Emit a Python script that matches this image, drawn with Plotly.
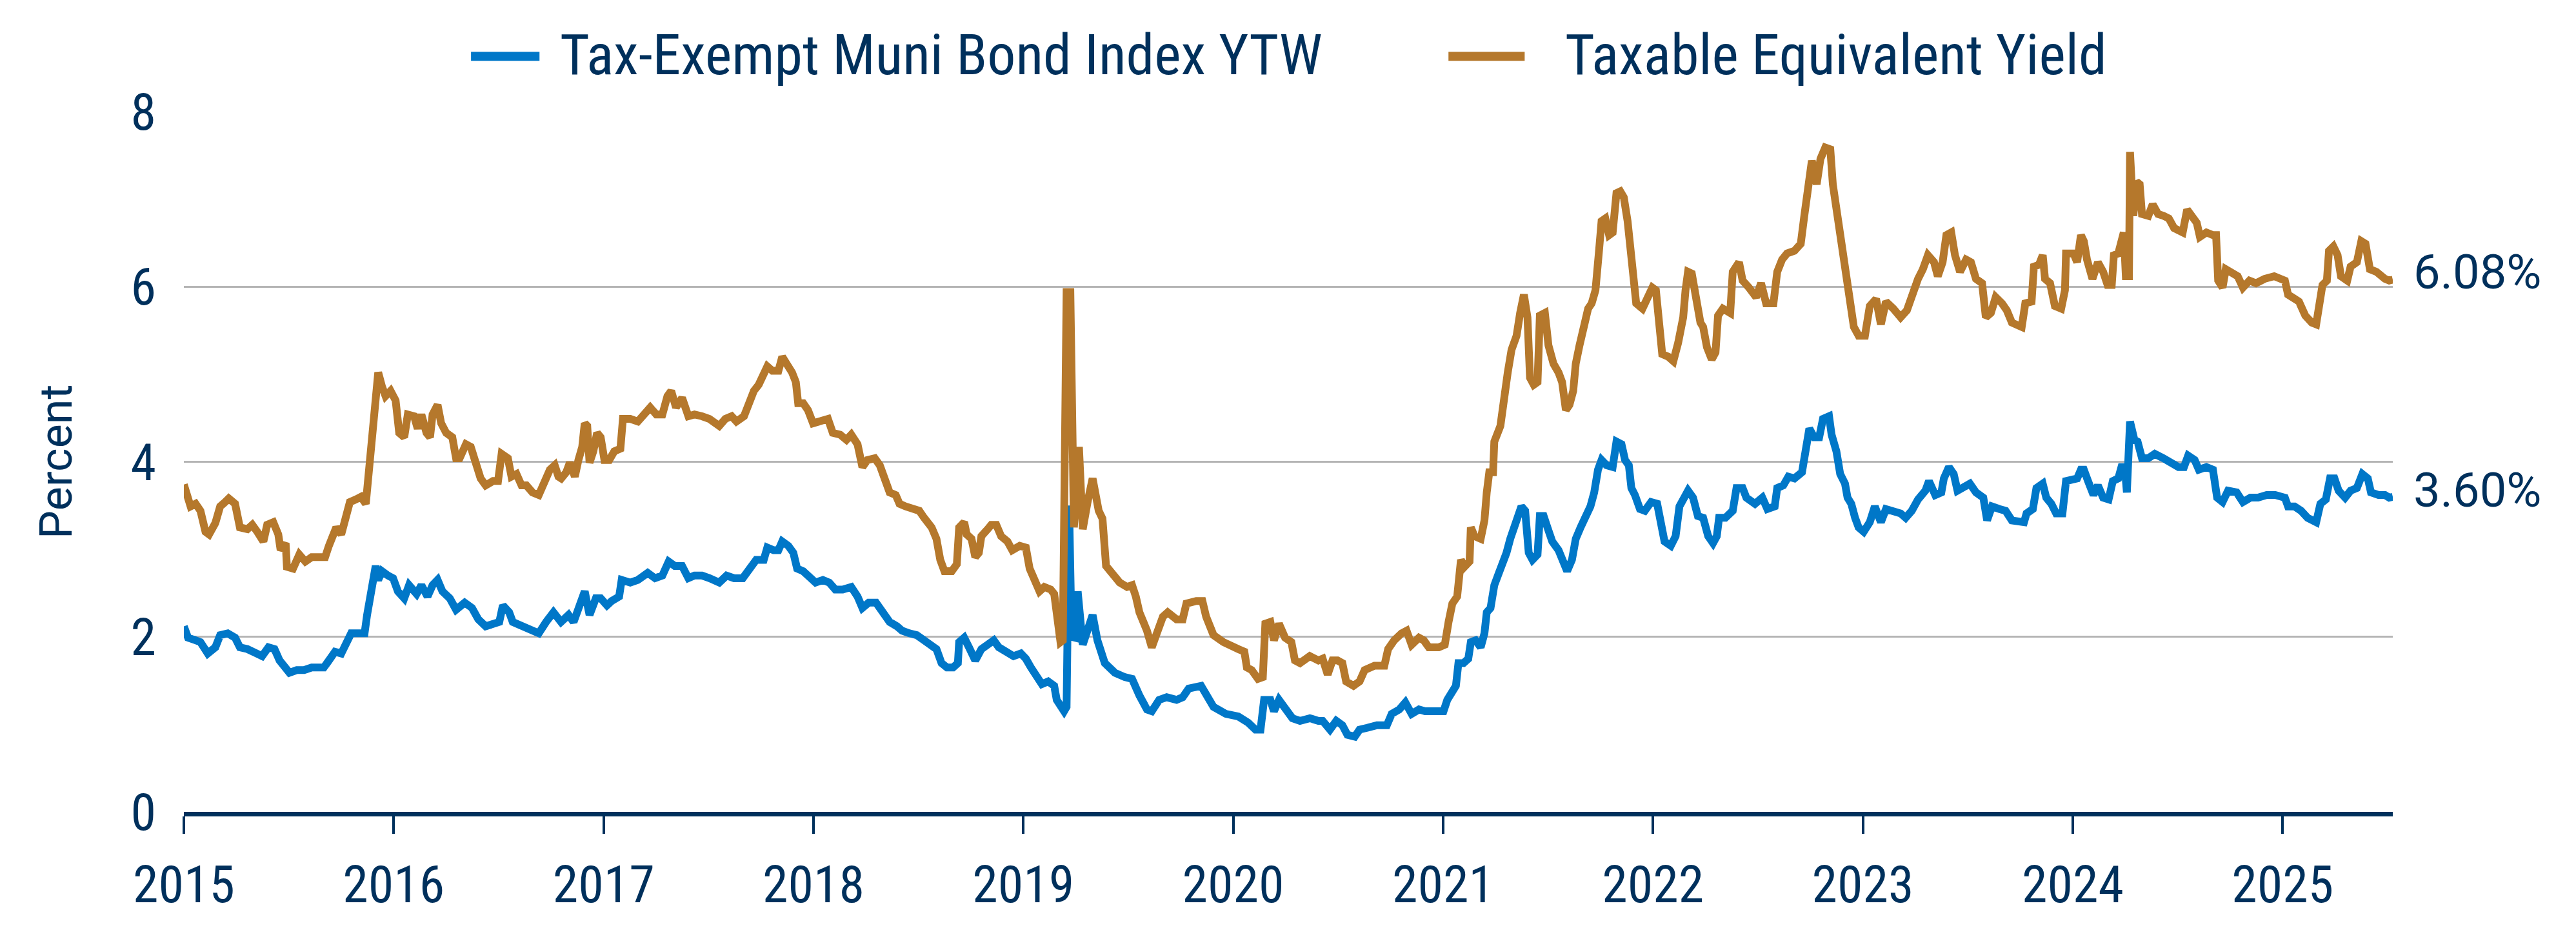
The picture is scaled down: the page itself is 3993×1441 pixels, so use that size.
import plotly.graph_objects as go

# ---------------- data (decimal years, percent) ----------------
TEY_YEAR = [
    2015.000, 2015.014, 2015.032, 2015.056, 2015.079, 2015.103, 2015.120, 2015.150, 2015.173, 2015.197,
    2015.214, 2015.244, 2015.267, 2015.303, 2015.326, 2015.350, 2015.379, 2015.397, 2015.426, 2015.450,
    2015.461, 2015.485, 2015.491, 2015.520, 2015.550, 2015.579, 2015.609, 2015.644, 2015.673, 2015.691,
    2015.709, 2015.726, 2015.750, 2015.767, 2015.791, 2015.820, 2015.844, 2015.867, 2015.879, 2015.891,
    2015.903, 2015.920, 2015.926, 2015.944, 2015.961, 2015.985, 2016.009, 2016.026, 2016.050, 2016.067,
    2016.097, 2016.114, 2016.132, 2016.156, 2016.173, 2016.185, 2016.209, 2016.226, 2016.250, 2016.279,
    2016.297, 2016.314, 2016.344, 2016.367, 2016.391, 2016.414, 2016.438, 2016.473, 2016.497, 2016.514,
    2016.544, 2016.561, 2016.585, 2016.609, 2016.632, 2016.661, 2016.691, 2016.714, 2016.744, 2016.767,
    2016.785, 2016.798, 2016.822, 2016.839, 2016.863, 2016.880, 2016.898, 2016.910, 2016.922, 2016.933,
    2016.951, 2016.969, 2016.986, 2017.004, 2017.027, 2017.051, 2017.080, 2017.092, 2017.127, 2017.163,
    2017.198, 2017.222, 2017.251, 2017.280, 2017.304, 2017.322, 2017.345, 2017.374, 2017.404, 2017.433,
    2017.469, 2017.504, 2017.551, 2017.580, 2017.610, 2017.633, 2017.669, 2017.692, 2017.716, 2017.739,
    2017.763, 2017.780, 2017.804, 2017.833, 2017.851, 2017.874, 2017.898, 2017.916, 2017.927, 2017.951,
    2017.974, 2017.998, 2018.022, 2018.045, 2018.069, 2018.092, 2018.127, 2018.157, 2018.180, 2018.210,
    2018.233, 2018.257, 2018.292, 2018.316, 2018.339, 2018.363, 2018.392, 2018.410, 2018.439, 2018.469,
    2018.504, 2018.527, 2018.563, 2018.586, 2018.604, 2018.624, 2018.659, 2018.683, 2018.694, 2018.718,
    2018.730, 2018.753, 2018.771, 2018.788, 2018.800, 2018.830, 2018.847, 2018.871, 2018.894, 2018.924,
    2018.947, 2018.983, 2019.012, 2019.030, 2019.053, 2019.077, 2019.100, 2019.130, 2019.147, 2019.159,
    2019.177, 2019.188, 2019.194, 2019.206, 2019.224, 2019.241, 2019.265, 2019.283, 2019.306, 2019.330,
    2019.359, 2019.377, 2019.394, 2019.418, 2019.459, 2019.494, 2019.518, 2019.536, 2019.553, 2019.589,
    2019.612, 2019.636, 2019.665, 2019.688, 2019.730, 2019.759, 2019.777, 2019.824, 2019.853, 2019.871,
    2019.906, 2019.953, 2019.994, 2020.024, 2020.053, 2020.065, 2020.088, 2020.118, 2020.141, 2020.153,
    2020.177, 2020.194, 2020.218, 2020.247, 2020.277, 2020.294, 2020.318, 2020.365, 2020.406, 2020.426,
    2020.450, 2020.473, 2020.497, 2020.520, 2020.538, 2020.573, 2020.602, 2020.626, 2020.673, 2020.720,
    2020.738, 2020.767, 2020.802, 2020.826, 2020.850, 2020.885, 2020.908, 2020.932, 2020.979, 2021.008,
    2021.026, 2021.044, 2021.067, 2021.085, 2021.102, 2021.126, 2021.132, 2021.150, 2021.179, 2021.197,
    2021.208, 2021.220, 2021.238, 2021.244, 2021.273, 2021.291, 2021.308, 2021.326, 2021.350, 2021.367,
    2021.385, 2021.402, 2021.414, 2021.432, 2021.450, 2021.461, 2021.485, 2021.502, 2021.526, 2021.550,
    2021.567, 2021.585, 2021.602, 2021.620, 2021.632, 2021.650, 2021.667, 2021.691, 2021.708, 2021.726,
    2021.744, 2021.755, 2021.773, 2021.791, 2021.808, 2021.826, 2021.844, 2021.861, 2021.879, 2021.897,
    2021.908, 2021.920, 2021.950, 2021.973, 2021.997, 2022.014, 2022.026, 2022.044, 2022.073, 2022.097,
    2022.120, 2022.144, 2022.155, 2022.167, 2022.185, 2022.202, 2022.226, 2022.239, 2022.257, 2022.280,
    2022.298, 2022.310, 2022.333, 2022.368, 2022.380, 2022.410, 2022.427, 2022.457, 2022.492, 2022.515,
    2022.539, 2022.574, 2022.592, 2022.615, 2022.639, 2022.674, 2022.704, 2022.721, 2022.739, 2022.757,
    2022.780, 2022.798, 2022.821, 2022.845, 2022.857, 2022.874, 2022.892, 2022.910, 2022.927, 2022.945,
    2022.957, 2022.980, 2023.010, 2023.033, 2023.063, 2023.086, 2023.110, 2023.145, 2023.180, 2023.210,
    2023.239, 2023.263, 2023.286, 2023.310, 2023.339, 2023.357, 2023.380, 2023.398, 2023.421, 2023.439,
    2023.463, 2023.492, 2023.515, 2023.539, 2023.568, 2023.586, 2023.610, 2023.633, 2023.663, 2023.686,
    2023.710, 2023.739, 2023.757, 2023.774, 2023.804, 2023.815, 2023.839, 2023.857, 2023.868, 2023.892,
    2023.915, 2023.945, 2023.963, 2023.968, 2024.004, 2024.021, 2024.039, 2024.053, 2024.068, 2024.094,
    2024.120, 2024.145, 2024.166, 2024.186, 2024.196, 2024.217, 2024.232, 2024.243, 2024.253, 2024.268,
    2024.273, 2024.289, 2024.304, 2024.319, 2024.330, 2024.360, 2024.381, 2024.407, 2024.432, 2024.458,
    2024.483, 2024.524, 2024.545, 2024.565, 2024.591, 2024.606, 2024.637, 2024.668, 2024.683, 2024.693,
    2024.714, 2024.729, 2024.760, 2024.786, 2024.811, 2024.842, 2024.873, 2024.914, 2024.960, 2025.011,
    2025.026, 2025.052, 2025.078, 2025.108, 2025.139, 2025.160, 2025.180, 2025.190, 2025.211, 2025.221,
    2025.242, 2025.262, 2025.278, 2025.308, 2025.324, 2025.354, 2025.375, 2025.395, 2025.416, 2025.447,
    2025.488, 2025.508, 2025.525,
]
TEY = [
    3.74, 3.60, 3.49, 3.52, 3.44, 3.20, 3.17, 3.30, 3.49, 3.54,
    3.58, 3.52, 3.25, 3.23, 3.28, 3.20, 3.09, 3.28, 3.31, 3.17,
    2.99, 3.07, 2.80, 2.78, 2.94, 2.86, 2.91, 2.91, 2.91, 3.04,
    3.15, 3.25, 3.17, 3.33, 3.54, 3.57, 3.60, 3.52, 3.81, 4.17,
    4.49, 4.81, 5.02, 4.86, 4.75, 4.81, 4.70, 4.33, 4.28, 4.54,
    4.52, 4.38, 4.54, 4.33, 4.28, 4.54, 4.65, 4.44, 4.33, 4.28,
    4.04, 4.04, 4.20, 4.17, 3.96, 3.81, 3.73, 3.78, 3.78, 4.09,
    4.04, 3.83, 3.86, 3.73, 3.73, 3.65, 3.62, 3.73, 3.91, 3.96,
    3.83, 3.81, 3.88, 3.99, 3.83, 4.02, 4.17, 4.44, 4.41, 3.99,
    4.12, 4.33, 4.28, 4.02, 4.02, 4.12, 4.15, 4.49, 4.49, 4.46,
    4.54, 4.62, 4.54, 4.54, 4.75, 4.81, 4.62, 4.73, 4.52, 4.54,
    4.52, 4.49, 4.41, 4.49, 4.52, 4.46, 4.52, 4.65, 4.81, 4.88,
    4.99, 5.09, 5.04, 5.04, 5.20, 5.12, 5.02, 4.91, 4.67, 4.67,
    4.59, 4.44, 4.46, 4.49, 4.49, 4.33, 4.31, 4.25, 4.31, 4.20,
    3.94, 4.02, 4.04, 3.96, 3.81, 3.65, 3.62, 3.52, 3.49, 3.46,
    3.44, 3.36, 3.25, 3.12, 2.88, 2.75, 2.75, 2.83, 3.25, 3.31,
    3.17, 3.12, 2.91, 2.96, 3.15, 3.23, 3.28, 3.28, 3.15, 3.09,
    2.99, 3.04, 3.02, 2.78, 2.67, 2.52, 2.57, 2.54, 2.49, 2.23,
    1.94, 1.96, 3.46, 5.94, 5.94, 3.25, 4.17, 3.23, 3.54, 3.81,
    3.44, 3.35, 2.81, 2.75, 2.62, 2.57, 2.59, 2.46, 2.28, 2.07,
    1.88, 2.04, 2.23, 2.28, 2.20, 2.20, 2.38, 2.41, 2.41, 2.23,
    2.02, 1.94, 1.88, 1.86, 1.83, 1.65, 1.62, 1.52, 1.54, 2.15,
    2.17, 1.96, 2.15, 1.99, 1.94, 1.73, 1.70, 1.78, 1.73, 1.75,
    1.57, 1.73, 1.73, 1.70, 1.49, 1.44, 1.49, 1.62, 1.67, 1.67,
    1.86, 1.96, 2.04, 2.07, 1.91, 1.99, 1.96, 1.88, 1.88, 1.91,
    2.17, 2.38, 2.46, 2.88, 2.80, 2.86, 3.25, 3.15, 3.12, 3.33,
    3.65, 3.88, 3.88, 4.23, 4.41, 4.81, 5.02, 5.28, 5.44, 5.70,
    5.91, 5.65, 4.96, 4.88, 4.91, 5.67, 5.70, 5.33, 5.12, 5.02,
    4.91, 4.59, 4.65, 4.81, 5.12, 5.33, 5.49, 5.75, 5.81, 5.96,
    6.44, 6.75, 6.78, 6.59, 6.62, 7.07, 7.09, 7.02, 6.75, 6.28,
    6.17, 5.81, 5.75, 5.86, 5.99, 5.96, 5.54, 5.23, 5.20, 5.15,
    5.36, 5.65, 5.96, 6.17, 6.15, 5.86, 5.59, 5.54, 5.31, 5.17,
    5.25, 5.67, 5.75, 5.70, 6.17, 6.28, 6.07, 5.99, 5.88, 6.04,
    5.81, 5.81, 6.17, 6.31, 6.38, 6.41, 6.49, 6.81, 7.15, 7.44,
    7.17, 7.46, 7.59, 7.57, 7.17, 6.91, 6.59, 6.38, 6.09, 5.86,
    5.54, 5.44, 5.44, 5.78, 5.86, 5.57, 5.83, 5.75, 5.65, 5.73,
    5.96, 6.09, 6.20, 6.36, 6.28, 6.12, 6.28, 6.59, 6.62, 6.36,
    6.17, 6.31, 6.28, 6.09, 6.04, 5.65, 5.70, 5.88, 5.81, 5.73,
    5.59, 5.57, 5.54, 5.81, 5.83, 6.23, 6.25, 6.36, 6.09, 6.04,
    5.78, 5.75, 5.96, 6.38, 6.38, 6.28, 6.59, 6.52, 6.31, 6.09,
    6.28, 6.17, 6.02, 6.02, 6.36, 6.38, 6.59, 6.62, 6.12, 6.12,
    7.54, 6.81, 7.20, 7.17, 6.83, 6.81, 6.94, 6.83, 6.81, 6.78,
    6.67, 6.62, 6.88, 6.81, 6.73, 6.57, 6.62, 6.59, 6.59, 6.07,
    5.99, 6.20, 6.15, 6.12, 5.99, 6.07, 6.04, 6.09, 6.12, 6.07,
    5.91, 5.86, 5.83, 5.67, 5.59, 5.57, 5.86, 6.02, 6.07, 6.41,
    6.46, 6.36, 6.12, 6.07, 6.23, 6.28, 6.52, 6.49, 6.20, 6.17,
    6.09, 6.07, 6.08,
]

MUNI_YEAR = [
    2015.000, 2015.020, 2015.056, 2015.079, 2015.114, 2015.150, 2015.173, 2015.209, 2015.244, 2015.267,
    2015.303, 2015.338, 2015.373, 2015.403, 2015.432, 2015.456, 2015.479, 2015.503, 2015.538, 2015.573,
    2015.609, 2015.644, 2015.667, 2015.691, 2015.720, 2015.750, 2015.773, 2015.797, 2015.826, 2015.861,
    2015.873, 2015.891, 2015.914, 2015.926, 2015.944, 2015.973, 2015.997, 2016.020, 2016.050, 2016.073,
    2016.109, 2016.132, 2016.161, 2016.185, 2016.209, 2016.232, 2016.267, 2016.297, 2016.338, 2016.373,
    2016.403, 2016.438, 2016.479, 2016.503, 2016.520, 2016.550, 2016.567, 2016.609, 2016.644, 2016.691,
    2016.726, 2016.761, 2016.797, 2016.833, 2016.857, 2016.880, 2016.910, 2016.933, 2016.963, 2016.986,
    2017.016, 2017.039, 2017.074, 2017.086, 2017.127, 2017.163, 2017.210, 2017.245, 2017.280, 2017.310,
    2017.339, 2017.374, 2017.404, 2017.433, 2017.469, 2017.504, 2017.551, 2017.586, 2017.622, 2017.663,
    2017.692, 2017.727, 2017.763, 2017.780, 2017.810, 2017.833, 2017.851, 2017.880, 2017.904, 2017.922,
    2017.951, 2017.986, 2018.010, 2018.045, 2018.075, 2018.104, 2018.139, 2018.180, 2018.210, 2018.233,
    2018.263, 2018.298, 2018.327, 2018.363, 2018.398, 2018.422, 2018.457, 2018.492, 2018.527, 2018.563,
    2018.586, 2018.610, 2018.636, 2018.665, 2018.688, 2018.694, 2018.718, 2018.741, 2018.771, 2018.800,
    2018.830, 2018.859, 2018.883, 2018.918, 2018.953, 2018.988, 2019.012, 2019.036, 2019.065, 2019.088,
    2019.118, 2019.147, 2019.159, 2019.177, 2019.194, 2019.206, 2019.218, 2019.230, 2019.247, 2019.259,
    2019.283, 2019.330, 2019.353, 2019.388, 2019.436, 2019.483, 2019.518, 2019.553, 2019.589, 2019.612,
    2019.647, 2019.683, 2019.730, 2019.759, 2019.788, 2019.847, 2019.871, 2019.906, 2019.965, 2020.024,
    2020.071, 2020.106, 2020.130, 2020.147, 2020.177, 2020.194, 2020.218, 2020.247, 2020.282, 2020.318,
    2020.365, 2020.406, 2020.426, 2020.461, 2020.491, 2020.520, 2020.544, 2020.579, 2020.602, 2020.638,
    2020.685, 2020.732, 2020.755, 2020.791, 2020.820, 2020.850, 2020.885, 2020.914, 2020.955, 2021.002,
    2021.020, 2021.038, 2021.061, 2021.073, 2021.097, 2021.120, 2021.132, 2021.155, 2021.179, 2021.197,
    2021.208, 2021.226, 2021.244, 2021.261, 2021.285, 2021.302, 2021.320, 2021.338, 2021.355, 2021.373,
    2021.391, 2021.408, 2021.426, 2021.450, 2021.461, 2021.479, 2021.497, 2021.520, 2021.550, 2021.573,
    2021.591, 2021.614, 2021.632, 2021.655, 2021.679, 2021.702, 2021.720, 2021.738, 2021.755, 2021.779,
    2021.808, 2021.826, 2021.850, 2021.867, 2021.885, 2021.897, 2021.914, 2021.938, 2021.961, 2021.991,
    2022.020, 2022.038, 2022.055, 2022.085, 2022.108, 2022.126, 2022.150, 2022.167, 2022.191, 2022.214,
    2022.239, 2022.263, 2022.286, 2022.304, 2022.315, 2022.345, 2022.380, 2022.398, 2022.427, 2022.445,
    2022.486, 2022.521, 2022.545, 2022.580, 2022.592, 2022.621, 2022.645, 2022.674, 2022.710, 2022.727,
    2022.745, 2022.768, 2022.792, 2022.810, 2022.839, 2022.851, 2022.874, 2022.892, 2022.915, 2022.927,
    2022.945, 2022.963, 2022.980, 2023.004, 2023.033, 2023.057, 2023.086, 2023.110, 2023.145, 2023.180,
    2023.204, 2023.233, 2023.263, 2023.298, 2023.315, 2023.345, 2023.374, 2023.386, 2023.410, 2023.433,
    2023.451, 2023.480, 2023.510, 2023.539, 2023.574, 2023.592, 2023.615, 2023.651, 2023.680, 2023.710,
    2023.745, 2023.768, 2023.780, 2023.810, 2023.827, 2023.857, 2023.874, 2023.898, 2023.921, 2023.951,
    2023.968, 2023.998, 2024.021, 2024.039, 2024.053, 2024.073, 2024.099, 2024.120, 2024.145, 2024.171,
    2024.191, 2024.217, 2024.232, 2024.248, 2024.258, 2024.273, 2024.294, 2024.309, 2024.330, 2024.360,
    2024.391, 2024.432, 2024.463, 2024.504, 2024.530, 2024.550, 2024.581, 2024.601, 2024.637, 2024.668,
    2024.688, 2024.714, 2024.740, 2024.781, 2024.811, 2024.847, 2024.883, 2024.924, 2024.965, 2025.011,
    2025.026, 2025.057, 2025.088, 2025.119, 2025.160, 2025.180, 2025.206, 2025.226, 2025.247, 2025.267,
    2025.298, 2025.324, 2025.354, 2025.380, 2025.406, 2025.421, 2025.457, 2025.488, 2025.508, 2025.525,
]
MUNI = [
    2.12, 1.99, 1.96, 1.94, 1.81, 1.88, 2.02, 2.04, 1.99, 1.88,
    1.86, 1.83, 1.78, 1.88, 1.86, 1.73, 1.65, 1.59, 1.62, 1.62,
    1.65, 1.65, 1.65, 1.73, 1.83, 1.81, 1.94, 2.04, 2.04, 2.04,
    2.25, 2.54, 2.81, 2.65, 2.75, 2.70, 2.67, 2.52, 2.44, 2.59,
    2.49, 2.59, 2.46, 2.59, 2.65, 2.52, 2.44, 2.31, 2.39, 2.33,
    2.20, 2.12, 2.15, 2.17, 2.36, 2.28, 2.17, 2.12, 2.09, 2.04,
    2.17, 2.28, 2.17, 2.25, 2.17, 2.31, 2.52, 2.25, 2.44, 2.44,
    2.36, 2.41, 2.46, 2.65, 2.62, 2.65, 2.73, 2.67, 2.70, 2.86,
    2.81, 2.81, 2.67, 2.70, 2.70, 2.67, 2.62, 2.70, 2.67, 2.67,
    2.75, 2.88, 2.88, 3.02, 2.99, 2.99, 3.09, 3.04, 2.96, 2.78,
    2.75, 2.67, 2.62, 2.65, 2.62, 2.54, 2.54, 2.57, 2.46, 2.33,
    2.39, 2.39, 2.28, 2.17, 2.12, 2.07, 2.04, 2.02, 1.96, 1.91,
    1.86, 1.70, 1.65, 1.65, 1.70, 1.94, 1.99, 1.88, 1.73, 1.86,
    1.91, 1.96, 1.88, 1.83, 1.78, 1.81, 1.75, 1.65, 1.54, 1.46,
    1.49, 1.44, 1.28, 1.20, 1.15, 1.20, 3.50, 2.00, 1.99, 2.52,
    1.91, 2.25, 1.96, 1.70, 1.59, 1.54, 1.52, 1.33, 1.17, 1.15,
    1.28, 1.31, 1.28, 1.31, 1.41, 1.44, 1.33, 1.20, 1.12, 1.09,
    1.02, 0.94, 0.94, 1.28, 1.28, 1.15, 1.28, 1.17, 1.07, 1.04,
    1.07, 1.04, 1.04, 0.94, 1.04, 0.99, 0.88, 0.86, 0.94, 0.96,
    0.99, 0.99, 1.12, 1.17, 1.25, 1.12, 1.17, 1.15, 1.15, 1.15,
    1.28, 1.36, 1.44, 1.70, 1.70, 1.75, 1.94, 1.96, 1.88, 2.04,
    2.28, 2.33, 2.59, 2.70, 2.83, 2.96, 3.12, 3.25, 3.38, 3.49,
    3.44, 2.96, 2.88, 2.94, 3.38, 3.38, 3.25, 3.09, 2.99, 2.86,
    2.75, 2.88, 3.12, 3.25, 3.36, 3.49, 3.65, 3.91, 4.02, 3.96,
    3.94, 4.23, 4.20, 4.02, 3.96, 3.70, 3.62, 3.46, 3.44, 3.54,
    3.52, 3.25, 3.09, 3.04, 3.15, 3.49, 3.62, 3.67, 3.59, 3.38,
    3.36, 3.15, 3.07, 3.15, 3.36, 3.36, 3.44, 3.70, 3.70, 3.59,
    3.52, 3.59, 3.46, 3.49, 3.70, 3.73, 3.83, 3.81, 3.88, 4.17,
    4.38, 4.28, 4.28, 4.49, 4.52, 4.31, 4.12, 3.86, 3.75, 3.59,
    3.52, 3.36, 3.25, 3.20, 3.31, 3.49, 3.31, 3.46, 3.44, 3.41,
    3.36, 3.44, 3.57, 3.67, 3.78, 3.62, 3.65, 3.81, 3.94, 3.86,
    3.67, 3.70, 3.75, 3.65, 3.59, 3.33, 3.49, 3.46, 3.44, 3.33,
    3.31, 3.31, 3.41, 3.46, 3.70, 3.75, 3.59, 3.52, 3.41, 3.41,
    3.78, 3.81, 3.81, 3.91, 3.91, 3.78, 3.62, 3.73, 3.59, 3.57,
    3.78, 3.81, 3.94, 3.94, 3.65, 4.46, 4.25, 4.23, 4.04, 4.04,
    4.09, 4.04, 3.99, 3.94, 3.94, 4.07, 4.02, 3.91, 3.94, 3.91,
    3.59, 3.54, 3.67, 3.65, 3.54, 3.59, 3.59, 3.62, 3.62, 3.59,
    3.49, 3.49, 3.44, 3.36, 3.31, 3.52, 3.57, 3.81, 3.81, 3.67,
    3.59, 3.67, 3.70, 3.86, 3.81, 3.65, 3.62, 3.62, 3.59, 3.60,
]

SERIES_NAMES = ["Tax-Exempt Muni Bond Index YTW", "Taxable Equivalent Yield"]
YEAR_TICKS = [2015, 2016, 2017, 2018, 2019, 2020, 2021, 2022, 2023, 2024, 2025]
Y_TICKS = [0, 2, 4, 6, 8]
END_LABELS = ["3.60%", "6.08%"]

# ---------------- style ----------------
NAVY = "#00305C"
BLUE = "#0077C8"
GOLD = "#B5782C"
GRID = "#B5B5B5"
NARROW = "Liberation Sans Narrow, Arial Narrow, Roboto Condensed, Roboto, sans-serif"
WIDE = "Roboto, Noto Sans, sans-serif"

fig = go.Figure()
fig.add_trace(go.Scatter(x=MUNI_YEAR, y=MUNI, mode="lines", name=SERIES_NAMES[0],
                         line=dict(color=BLUE, width=12), showlegend=False, hoverinfo="skip"))
fig.add_trace(go.Scatter(x=TEY_YEAR, y=TEY, mode="lines", name=SERIES_NAMES[1],
                         line=dict(color=GOLD, width=12), showlegend=False, hoverinfo="skip"))

x_end = MUNI_YEAR[-1]

annotations = [
    dict(x=x_end, y=MUNI[-1], xref="x", yref="y", text=END_LABELS[0], showarrow=False,
         xanchor="left", yanchor="middle", xshift=30, yshift=10,
         font=dict(family=WIDE, size=74, color=NAVY)),
    dict(x=x_end, y=TEY[-1], xref="x", yref="y", text=END_LABELS[1], showarrow=False,
         xanchor="left", yanchor="middle", xshift=30, yshift=12,
         font=dict(family=WIDE, size=74, color=NAVY)),
    dict(x=-0.058, y=0.5, xref="paper", yref="paper", text="Percent", showarrow=False,
         textangle=-90, xanchor="center", yanchor="middle",
         font=dict(family=WIDE, size=70, color=NAVY)),
    # legend texts
    dict(x=0.1697, y=1.082, xref="paper", yref="paper", text=SERIES_NAMES[0], showarrow=False,
         xanchor="left", yanchor="middle", font=dict(family=NARROW, size=88, color=NAVY)),
    dict(x=0.6247, y=1.082, xref="paper", yref="paper", text=SERIES_NAMES[1], showarrow=False,
         xanchor="left", yanchor="middle", font=dict(family=NARROW, size=88, color=NAVY)),
]

shapes = [
    dict(type="line", xref="paper", yref="paper", x0=0.1300, x1=0.1610, y0=1.079, y1=1.079,
         line=dict(color=BLUE, width=14)),
    dict(type="line", xref="paper", yref="paper", x0=0.5725, x1=0.6070, y0=1.079, y1=1.079,
         line=dict(color=GOLD, width=14)),
]

fig.update_layout(
    width=3993, height=1441,
    margin=dict(l=285, r=284, t=173, b=183, autoexpand=False),
    paper_bgcolor="white", plot_bgcolor="white",
    font=dict(family=NARROW, color=NAVY, size=78),
    showlegend=False,
    annotations=annotations,
    shapes=shapes,
)
fig.update_xaxes(
    range=[YEAR_TICKS[0], x_end], tickmode="array", tickvals=YEAR_TICKS,
    ticktext=[str(y) for y in YEAR_TICKS],
    showgrid=False, zeroline=False,
    showline=True, linecolor=NAVY, linewidth=7,
    ticks="outside", ticklen=27, tickwidth=4, tickcolor=NAVY,
    tickfont=dict(family=NARROW, size=80, color=NAVY),
    ticklabelstandoff=10,
)
fig.update_yaxes(
    range=[0, 8], tickmode="array", tickvals=Y_TICKS,
    showgrid=True, gridcolor=GRID, gridwidth=3,
    zeroline=False, showline=False, ticks="",
    tickfont=dict(family=NARROW, size=80, color=NAVY),
    ticklabelstandoff=42,
)

fig.write_html("out.html")
